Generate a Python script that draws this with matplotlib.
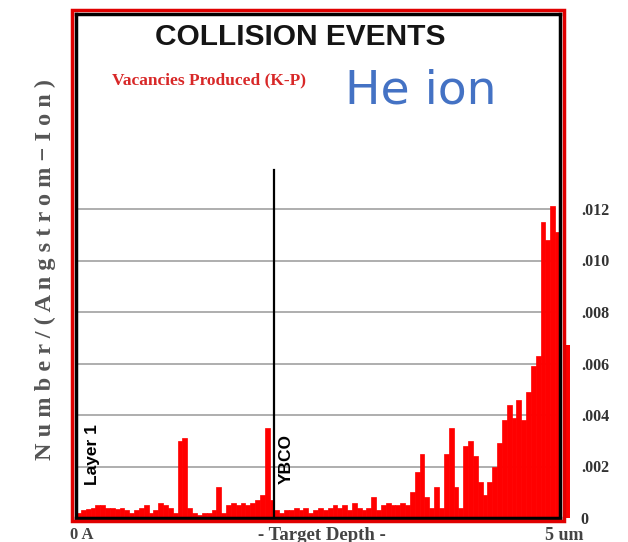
import matplotlib
matplotlib.use('Agg')
import matplotlib.pyplot as plt
from matplotlib.patches import Rectangle
import numpy as np

# vacancies per (Angstrom-ion), 100 depth bins of 500 A from 0 to 5 um
vacancies = [
    0.0002, 0.0003, 0.00035, 0.0004, 0.0005, 0.0005, 0.0004, 0.0004, 0.00035, 0.0004,
    0.0003, 0.0002, 0.0003, 0.0004, 0.0005, 0.0002, 0.0003, 0.0006, 0.0005, 0.0004,
    0.0002, 0.0030, 0.0031, 0.0004, 0.0002, 0.0001, 0.0002, 0.0002, 0.0003, 0.0012,
    0.0002, 0.0005, 0.0006, 0.0005, 0.0006, 0.0005, 0.0006, 0.0007, 0.0009, 0.0035,
    0.0007, 0.0003, 0.0002, 0.0003, 0.0003, 0.0004, 0.0003, 0.0004, 0.0002, 0.0003,
    0.0004, 0.0003, 0.0004, 0.0005, 0.0004, 0.0005, 0.0003, 0.0006, 0.0004, 0.0003,
    0.0004, 0.0008, 0.0003, 0.0005, 0.0006, 0.0005, 0.0005, 0.0006, 0.0005, 0.0010,
    0.0018, 0.0025, 0.0008, 0.0004, 0.0012, 0.0004, 0.0025, 0.0035, 0.0012, 0.0004,
    0.0028, 0.0030, 0.0024, 0.0014, 0.0009, 0.0014, 0.0020, 0.0029, 0.0038, 0.0044,
    0.0039, 0.0046, 0.0038, 0.0049, 0.0059, 0.0063, 0.0115, 0.0108, 0.0121, 0.0111,
]
overflow_value = 0.0067          # bar that spills past the right frame
bin_width = 500                  # Angstrom
layer_boundary = 20500           # Angstrom, Layer 1 / YBCO
y_ticks = [0, 0.002, 0.004, 0.006, 0.008, 0.010, 0.012]
y_tick_labels = ['0', '.002', '.004', '.006', '.008', '.010', '.012']

W, H = 628, 542
fig = plt.figure(figsize=(W / 100, H / 100), dpi=100)
fig.patch.set_facecolor('white')

# axes box in pixel coords: x 76..560, y 14..518 (top-down)
ax = fig.add_axes([76 / W, (H - 518) / H, (560 - 76) / W, (518 - 14) / H])
ax.set_xlim(0, 50000)
ax.set_ylim(0, (518 - 14) / 25750)

depth = np.arange(len(vacancies)) * bin_width
ax.bar(depth, vacancies, width=bin_width, align='edge', color='#ff0000',
       edgecolor='#ff0000', linewidth=0.5, zorder=2)
ax.bar([50300], [overflow_value], width=700, align='edge', color='#ff0000',
       edgecolor='#ff0000', linewidth=0, zorder=1, clip_on=False)

# horizontal grid
for yt in y_ticks[1:]:
    ax.plot([0, 49500], [yt, yt], color='#999999', lw=1.1, zorder=1)

# layer boundary
ax.plot([layer_boundary, layer_boundary], [0, (518 - 170) / 25750],
        color='black', lw=1.6, zorder=4)

ax.set_xticks([])
ax.yaxis.tick_right()
ax.set_yticks(y_ticks)
ax.set_yticklabels(y_tick_labels, family='Liberation Serif', fontweight='bold',
                   fontsize=11.5, color='#333333')
ax.tick_params(axis='y', length=0, pad=15)
for s in ax.spines.values():
    s.set_color('black')
    s.set_linewidth(2.5)
    s.set_zorder(5)

# outer red frame
fig.patches.append(Rectangle((72 / W, (H - 521) / H), (564 - 72) / W, (521 - 10) / H,
                             transform=fig.transFigure, fill=False,
                             edgecolor='#e00000', lw=2.5, zorder=6))

fig.text(300 / W, 1 - 37 / H, 'COLLISION EVENTS', family='Liberation Sans',
         fontweight='bold', fontsize=21.5, ha='center', va='center', color='#151515')
fig.text(112 / W, 1 - 80 / H, 'Vacancies Produced (K-P)', family='Liberation Serif',
         fontweight='bold', fontsize=12.5, ha='left', va='center', color='#d82828')
fig.text(345 / W, 1 - 91 / H, 'He ion', family='DejaVu Sans', fontsize=34,
         ha='left', va='center', color='#4472c4')

fig.text(45 / W, 1 - 270 / H, 'N u m b e r / ( A n g s t r o m − I o n )',
         family='Liberation Serif', fontweight='bold', fontsize=17.5, rotation=90,
         ha='center', va='center', color='#555555')

fig.text(92 / W, 1 - 455 / H, 'Layer 1', family='Liberation Sans', fontweight='bold',
         fontsize=12.5, rotation=90, ha='center', va='center', color='black')
fig.text(286 / W, 1 - 459 / H, 'YBCO', family='Liberation Sans', fontweight='bold',
         fontsize=12.5, rotation=90, ha='center', va='center', color='black')

fig.text(70 / W, 1 - 535 / H, '0 A', family='Liberation Serif', fontweight='bold',
         fontsize=12, ha='left', va='center', color='#444444')
fig.text(322 / W, 1 - 535 / H, '- Target Depth -', family='Liberation Serif',
         fontweight='bold', fontsize=13.5, ha='center', va='center', color='#444444')
fig.text(545 / W, 1 - 535 / H, '5 um', family='Liberation Serif', fontweight='bold',
         fontsize=13, ha='left', va='center', color='#444444')

fig.savefig('out.png', dpi=100, facecolor='white')
plt.close(fig)
